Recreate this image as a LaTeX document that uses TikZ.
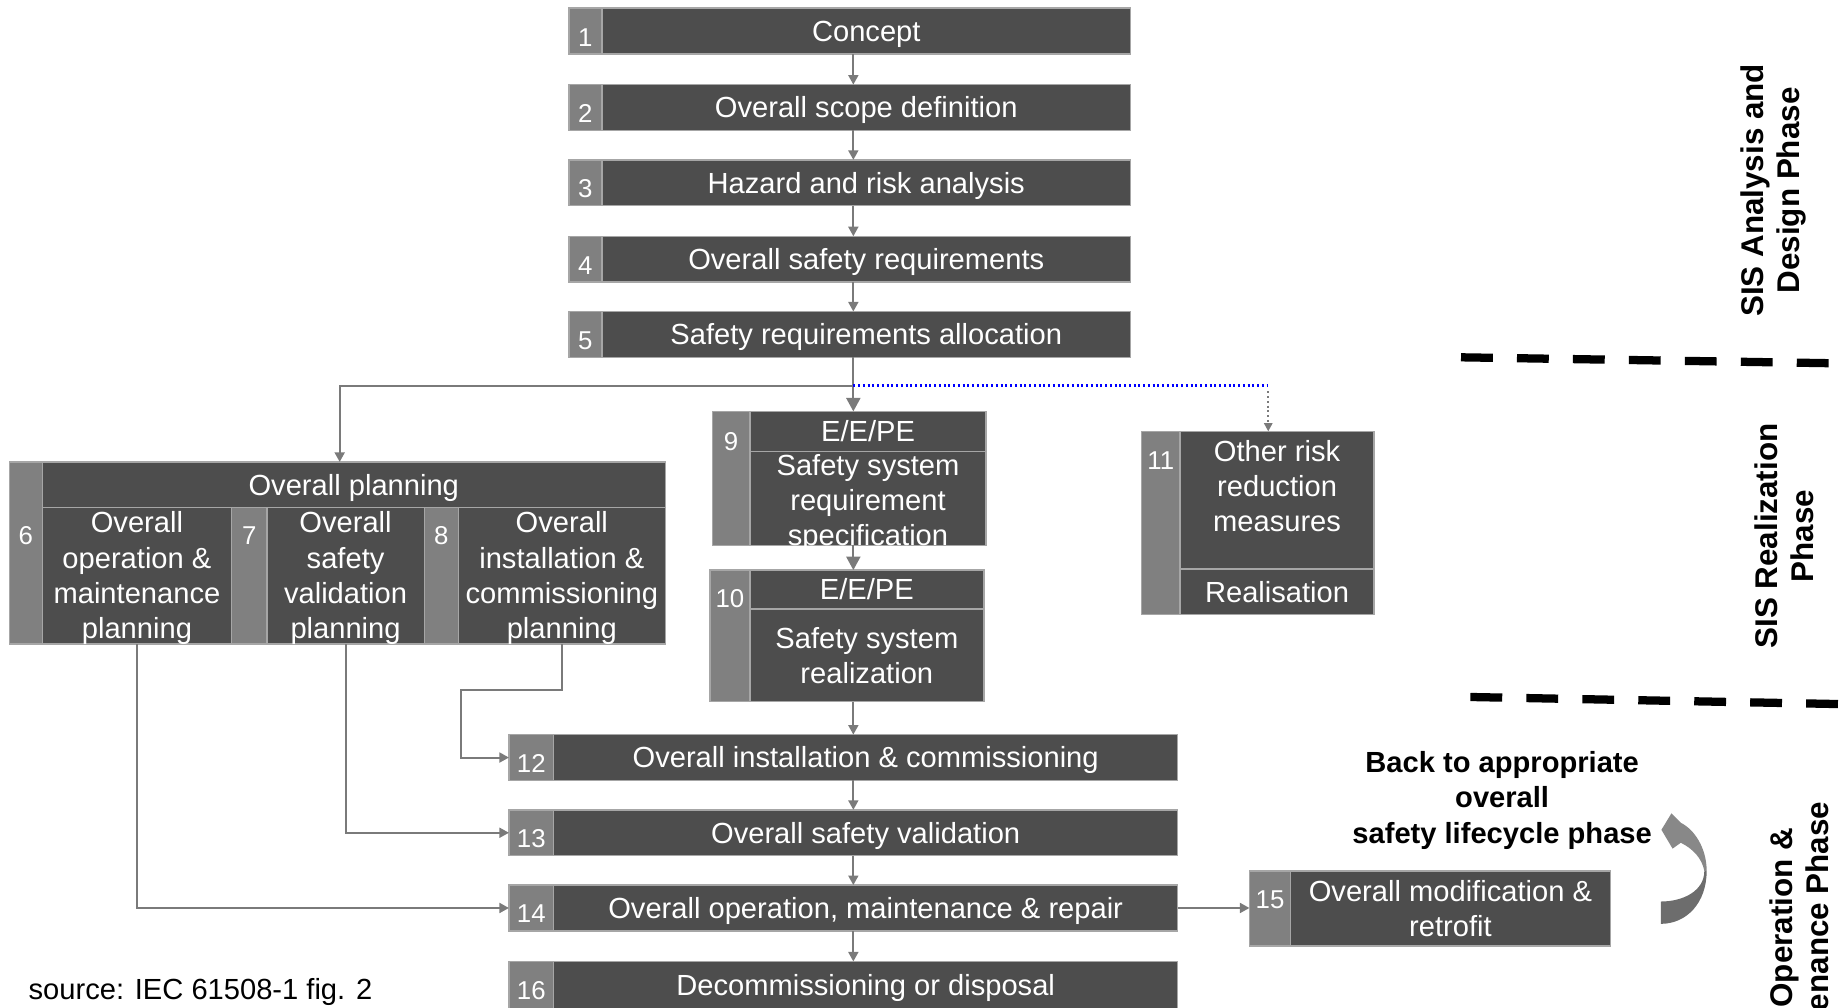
\documentclass[tikz,border=0pt]{standalone}
\usepackage{fontspec}
\setmainfont{Liberation Sans}
\usetikzlibrary{arrows.meta,fit,calc}

\definecolor{boxdark}{HTML}{4D4D4D}
\definecolor{boxtab}{HTML}{808080}
\definecolor{boxedge}{HTML}{A6A6A6}
\definecolor{wiregray}{HTML}{7A7A7A}
\definecolor{curlup}{HTML}{888888}
\definecolor{curllow}{HTML}{6D6D6D}

\newcommand\boxfont{\fontsize{14.1}{17.1}\selectfont}
\newcommand\numfont{\fontsize{12.5}{14}\selectfont}
\newcommand\phasefont{\bfseries\fontsize{15.2}{17.6}\selectfont}
\newcommand\notefont{\bfseries\fontsize{14.1}{17.1}\selectfont}

% numbered stage: tab on the left, dark panel with its caption on the right
% #1 name, #2 number, #3 left x, #4 tab/panel x, #5 right x, #6 top y, #7 bottom y, #8 caption
\newcommand\stagebox[8]{%
  \node[tabpanel, fit={(#3,#6) (#4,#7)}] (t#1) {};
  \node[darkpanel, fit={(#4,#6) (#5,#7)}] (#1) {};
  \node[num] (n#1) at ($(t#1.north)+(0,28)$) {#2};
  \node[caption] (c#1) at (#1) {#8};
}

\begin{document}
\begin{tikzpicture}[x=0.02cm,y=-0.02cm,
  panel/.style={draw=boxedge, line width=0.7pt, inner sep=0pt, outer sep=0pt},
  darkpanel/.style={panel, fill=boxdark},
  tabpanel/.style={panel, fill=boxtab},
  caption/.style={text=white, font=\boxfont, inner sep=0pt, text height=1.06em, text depth=0.06em},
  mcaption/.style={text=white, font=\boxfont, align=center, inner sep=0pt},
  num/.style={text=white, font=\numfont, inner sep=0pt, text height=0.74em, text depth=0.26em},
  wire/.style={draw=wiregray, line width=0.95pt},
  arr/.style={wire, -{Triangle[length=4.6pt,width=4.8pt]}},
  bigarr/.style={wire, -{Triangle[length=6.5pt,width=6.8pt]}},
  bluedots/.style={draw=blue, line width=1pt, dash pattern=on 1pt off 1.3pt},
  graydots/.style={draw=wiregray, line width=1pt, dash pattern=on 1pt off 1.3pt,
    -{Triangle[length=4pt,width=4pt]}},
  phaseline/.style={draw=black, line width=4pt, dash pattern=on 15.4pt off 11.7pt},
  phase/.style={font=\phasefont, align=center, rotate=90, inner sep=0pt},
]
\useasboundingbox (0,0) rectangle (1568,857);
\clip (0,0) rectangle (1568,857);

% main column
\stagebox{b1}{1}{484}{512}{962}{7}{46}{Concept}
\stagebox{b2}{2}{484}{512}{962}{72}{111}{Overall scope definition}
\stagebox{b3}{3}{484}{512}{962}{136}{175}{Hazard and risk analysis}
\stagebox{b4}{4}{484}{512}{962}{201}{240}{Overall safety requirements}
\stagebox{b5}{5}{484}{512}{962}{265}{304}{Safety requirements allocation}

\stagebox{b12}{12}{433}{471}{1002}{625}{664}{Overall installation \& commissioning}
\stagebox{b13}{13}{433}{471}{1002}{689}{728}{Overall safety validation}
\stagebox{b14}{14}{433}{471}{1002}{753}{792}{Overall operation, maintenance \& repair}
\stagebox{b16}{16}{433}{471}{1002}{818}{858}{Decommissioning or disposal}

% modification and retrofit
\node[tabpanel, fit={(1063,741) (1098,805)}] (tb15) {};
\node[darkpanel, fit={(1098,741) (1370,805)}] (b15) {};
\node[num] (nb15) at ($(tb15.north)+(0,28)$) {15};
\node[mcaption] (cb15) at (b15) {Overall modification \&\\retrofit};

% E/E/PE specification
\node[tabpanel, fit={(606,350) (638,464)}] (tb9) {};
\node[darkpanel, fit={(638,350) (839,384)}] (b9h) {};
\node[darkpanel, fit={(638,384) (839,464)}] (b9) {};
\node[num] (nb9) at ($(tb9.north)+(0,29)$) {9};
\node[caption] (cb9h) at (b9h) {E/E/PE};
\node[mcaption] (cb9) at ($(b9)+(0,4)$) {Safety system\\requirement\\specification};

% E/E/PE realization
\node[tabpanel, fit={(604,485) (638,597)}] (tb10) {};
\node[darkpanel, fit={(638,485) (837,518)}] (b10h) {};
\node[darkpanel, fit={(638,518) (837,597)}] (b10) {};
\node[num] (nb10) at ($(tb10.north)+(0,28)$) {10};
\node[caption] (cb10h) at (b10h) {E/E/PE};
\node[mcaption] (cb10) at (b10) {Safety system\\realization};

% other risk reduction measures
\node[tabpanel, fit={(971,367) (1004,523)}] (tb11) {};
\node[darkpanel, fit={(1004,367) (1169,484)}] (b11) {};
\node[darkpanel, fit={(1004,484) (1169,523)}] (b11r) {};
\node[num] (nb11) at ($(tb11.north)+(0,28)$) {11};
\node[mcaption] (cb11) at ($(b11)+(0,-12)$) {Other risk\\reduction\\measures};
\node[caption] (cb11r) at (b11r) {Realisation};

% overall planning group
\node[tabpanel, fit={(8,393) (36,548)}] (tp6) {};
\node[darkpanel, fit={(36,393) (566,432)}] (plan) {};
\node[darkpanel, fit={(36,432) (197,548)}] (p6) {};
\node[tabpanel, fit={(197,432) (227,548)}] (tp7) {};
\node[darkpanel, fit={(227,432) (361,548)}] (p7) {};
\node[tabpanel, fit={(361,432) (390,548)}] (tp8) {};
\node[darkpanel, fit={(390,432) (566,548)}] (p8) {};
\node[caption] (cplan) at (plan) {Overall planning};
\node[num] (np6) at (22,459) {6};
\node[num] (np7) at ($(tp7.north)+(0,27)$) {7};
\node[num] (np8) at ($(tp8.north)+(0,27)$) {8};
\node[mcaption] (cp6) at ($(p6)+(0,2)$) {Overall\\operation \&\\maintenance\\planning};
\node[mcaption] (cp7) at ($(p7)+(0,2)$) {Overall\\safety\\validation\\planning};
\node[mcaption] (cp8) at ($(p8)+(0,2)$) {Overall\\installation \&\\commissioning\\planning};

% connectors
\coordinate (spine) at (726,0);
\coordinate (split) at (726,328);
\coordinate (planin) at (289,0);
\coordinate (otherin) at (1079,0);
\coordinate (jog) at (392,587);

\draw[arr] (b1.south -| spine) -- (b2.north -| spine);
\draw[arr] (b2.south -| spine) -- (b3.north -| spine);
\draw[arr] (b3.south -| spine) -- (b4.north -| spine);
\draw[arr] (b4.south -| spine) -- (b5.north -| spine);
\draw[bigarr] (b5.south -| spine) -- (b9h.north -| spine);
\draw[arr] (split) -| (plan.north -| planin);
\draw[bluedots] (split) -- (split -| otherin);
\draw[graydots] ($(split -| otherin)+(0,5)$) -- (b11.north -| otherin);
\draw[bigarr] (b9.south -| spine) -- (b10h.north -| spine);
\draw[arr] (b10.south -| spine) -- (b12.north -| spine);
\draw[arr] (b12.south -| spine) -- (b13.north -| spine);
\draw[arr] (b13.south -| spine) -- (b14.north -| spine);
\draw[arr] (b14.south -| spine) -- (b16.north -| spine);
\draw[arr] (b14.east) -- (b14.east -| tb15.west);
\draw[arr] (p6.south) |- (tb14.west);
\draw[arr] (p7.south) |- (tb13.west);
\draw[arr] (p8.south) |- (jog) |- (tb12.west);

% return arrow
\node[font=\notefont, align=center, inner sep=0pt] (back) at (1278,681)
  {Back to appropriate\\overall\\safety lifecycle phase};
\fill[curllow] (1452,741) .. controls (1452,768) and (1435,786) .. (1413,786)
  -- (1413,767) .. controls (1432,767) and (1450,758) .. (1450,741) -- cycle;
\fill[curlup] (1452,741) .. controls (1452,722) and (1442,706) .. (1430,700)
  -- (1422,692) -- (1413.5,706) -- (1423,722) -- (1430,717)
  .. controls (1440,722) and (1448,730) .. (1450,741) -- cycle;

% phase separators and titles
\draw[phaseline] (1243,304) -- (1556,309);
\draw[phaseline] (1251,593) -- (1564,599);
\node[phase] (ph1) at (1509,162) {SIS Analysis and\\Design Phase};
\node[phase] (ph2) at (1518,456) {SIS Realization\\Phase};
\node[phase] (ph3) at (1531,806) {SIS Operation \&\\Maintenance Phase};

% source
\node[font=\boxfont, anchor=west, inner sep=0pt] (src) at (24,844) {source: IEC 61508-1 fig. 2};
\end{tikzpicture}
\end{document}
